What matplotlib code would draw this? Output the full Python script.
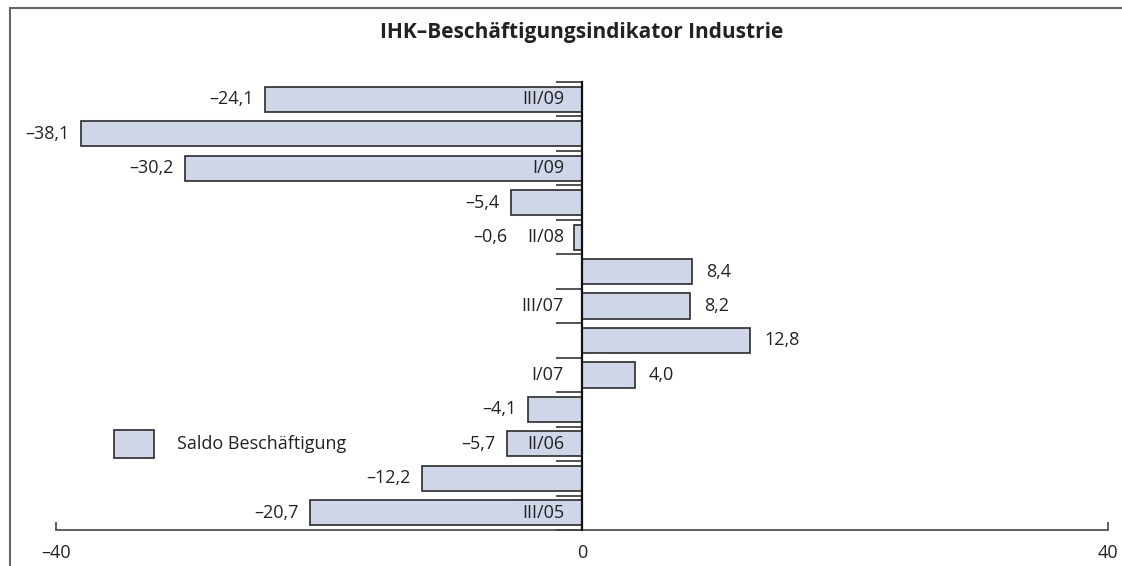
import matplotlib
matplotlib.use("Agg")
import matplotlib.pyplot as plt
from matplotlib.patches import Rectangle
from matplotlib.lines import Line2D

plt.rcParams['font.family'] = ['Open Sans', 'DejaVu Sans']

# survey waves, oldest at the bottom
periods = ['III/05', 'I/06', 'II/06', 'III/06', 'I/07', 'II/07', 'III/07',
           'I/08', 'II/08', 'III/08', 'I/09', 'II/09', 'III/09']
saldo = [-20.7, -12.2, -5.7, -4.1, 4.0, 12.8, 8.2, 8.4, -0.6, -5.4, -30.2, -38.1, -24.1]
shown_labels = ['III/05', 'II/06', 'I/07', 'III/07', 'II/08', 'I/09', 'III/09']
xticks = [-40, 0, 40]

bar_color = '#CED6E8'
edge_color = '#2b2b2b'
fs = 13

fig = plt.figure(figsize=(11.22, 5.66), dpi=100)
ax = fig.add_axes([0.0499, 0.0636, 0.9376, 0.7915])

ypos = list(range(len(periods)))
ax.barh(ypos, saldo, height=0.73, color=bar_color, edgecolor=edge_color, linewidth=1.2, zorder=2)

def fmt(v):
    s = f"{abs(v):.1f}".replace('.', ',')
    return ('–' + s) if v < 0 else s

for y, v, p in zip(ypos, saldo, periods):
    if v < 0:
        anchor = v
        if p in shown_labels and v > -4.8:
            anchor = -4.8
        ax.annotate(fmt(v), (anchor, y), xytext=(-8, 0), textcoords='offset points',
                    ha='right', va='center', fontsize=fs, color='#222222')
    else:
        ax.annotate(fmt(v), (v, y), xytext=(10, 0), textcoords='offset points',
                    ha='left', va='center', fontsize=fs, color='#222222')
    if p in shown_labels:
        ax.annotate(p, (0, y), xytext=(-13, 0), textcoords='offset points',
                    ha='right', va='center', fontsize=fs, color='#222222', zorder=3)

ax.set_xlim(-40, 40)
ax.set_ylim(-0.5, len(periods) - 0.5)

# category axis through zero with ticks between the bars
ax.spines['left'].set_position(('data', 0))
ax.spines['left'].set_linewidth(1.6)
ax.spines['left'].set_color('#111111')
ax.spines['left'].set_zorder(4)
ax.spines['right'].set_visible(False)
ax.spines['top'].set_visible(False)
ax.spines['bottom'].set_color('#444444')
ax.spines['bottom'].set_linewidth(1.2)

ax.set_yticks([k - 0.5 for k in range(len(periods) + 1)])
ax.set_yticklabels([])
ax.tick_params(axis='y', direction='out', length=19, width=1.3, color='#444444')

ax.set_xticks(xticks)
ax.set_xticklabels([('–' + str(abs(t))) if t < 0 else str(t) for t in xticks], fontsize=fs, color='#222222')
ax.tick_params(axis='x', direction='in', length=6, width=1.2, color='#444444', pad=10)

# legend
ax.add_patch(Rectangle((0.0551, 0.1607), 0.038, 0.0625, transform=ax.transAxes,
                       facecolor=bar_color, edgecolor=edge_color, linewidth=1.2, clip_on=False))
ax.text(0.115, 0.192, 'Saldo Beschäftigung', transform=ax.transAxes,
        ha='left', va='center', fontsize=fs, color='#222222')

fig.text(0.518, 0.9417, 'IHK–Beschäftigungsindikator Industrie', ha='center', va='center',
         fontsize=15, fontweight='bold', color='#222222')

# frame lines at top and left
fig.add_artist(Line2D([0.009, 1.0], [0.986, 0.986], transform=fig.transFigure, color='#666666', linewidth=1.5))
fig.add_artist(Line2D([0.009, 0.009], [0.0, 0.986], transform=fig.transFigure, color='#666666', linewidth=1.5))

fig.savefig('out.png', dpi=100)
